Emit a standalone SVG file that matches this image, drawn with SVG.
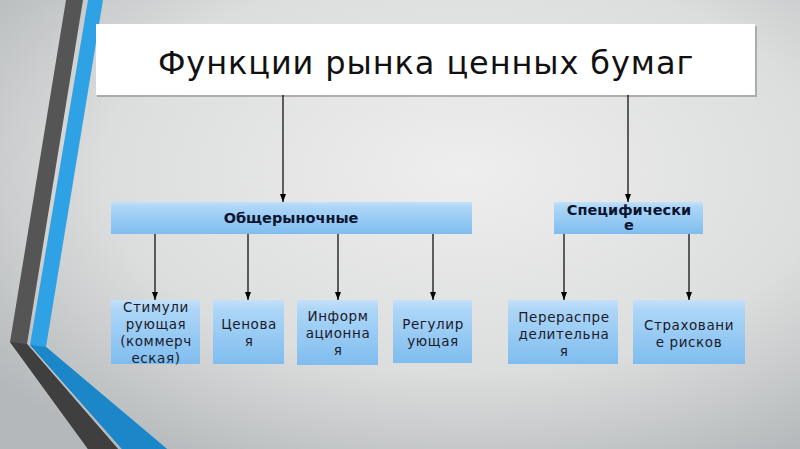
<svg xmlns="http://www.w3.org/2000/svg" width="800" height="449" viewBox="0 0 800 449">
<defs>
<radialGradient id="bg" cx="0.58" cy="0.38" r="0.75">
<stop offset="0" stop-color="#eeeeee"/>
<stop offset="0.6" stop-color="#dcdddd"/>
<stop offset="1" stop-color="#b4b8ba"/>
</radialGradient>
<linearGradient id="box" x1="0" y1="0" x2="0" y2="1">
<stop offset="0" stop-color="#c3e0f9"/>
<stop offset="0.15" stop-color="#add6f7"/>
<stop offset="1" stop-color="#7fbdef"/>
</linearGradient>
<marker id="arr" markerWidth="8" markerHeight="6" refX="8" refY="3" orient="auto" markerUnits="userSpaceOnUse" viewBox="0 0 8 6">
<path d="M0,0 L8,3 L0,6 Z" fill="#000"/>
</marker>
</defs>
<style>
.node rect.b{fill:url(#box);}
.t{font-family:"DejaVu Sans","Liberation Sans",sans-serif;font-size:13.5px;fill:#1a1a2a;text-anchor:middle;letter-spacing:0.6px;}
.h{font-family:"DejaVu Sans","Liberation Sans",sans-serif;font-size:14.5px;font-weight:bold;fill:#0b1530;text-anchor:middle;}
.c line{stroke:#000;stroke-width:1.2;marker-end:url(#arr);}
</style>
<rect width="800" height="449" fill="url(#bg)"/>
<g id="decor">
<polygon points="66,0 83,0 27,344 118,449 88,449 10,342" fill="#555555"/>
<polygon points="10,342 27,344 118,449 88,449" fill="#3f3f3f"/>
<polygon points="88,0 103,0 46,347 167,449 122,449 30,345" fill="#2fa2e6"/>
<polygon points="30,345 46,347 167,449 122,449" fill="#1b86c8"/>
</g>
<g id="title">
<rect x="97" y="26" width="660" height="71" fill="#8a8a8a" opacity="0.6"/>
<rect x="96" y="24" width="659" height="71" fill="#ffffff"/>
<text x="426" y="74" font-family="DejaVu Sans, Liberation Sans, sans-serif" font-size="32" fill="#111" text-anchor="middle" letter-spacing="0.9">Функции рынка ценных бумаг</text>
</g>
<g class="c" id="connectors">
<line x1="283" y1="95" x2="283" y2="202"/>
<line x1="628" y1="95" x2="628" y2="202"/>
<line x1="155" y1="234" x2="155" y2="300"/>
<line x1="248" y1="234" x2="248" y2="300"/>
<line x1="338" y1="234" x2="338" y2="300"/>
<line x1="433" y1="234" x2="433" y2="300"/>
<line x1="564" y1="234" x2="564" y2="300"/>
<line x1="689" y1="234" x2="689" y2="300"/>
</g>
<g class="node" id="general">
<rect class="b" x="111" y="202" width="361" height="32"/>
<text class="h" x="291" y="223">Общерыночные</text>
</g>
<g class="node" id="specific">
<rect class="b" x="554" y="202" width="149" height="32"/>
<text class="h" x="629" y="215">Специфически</text>
<text class="h" x="629" y="230">е</text>
</g>
<g class="node" id="stim">
<rect class="b" x="111" y="300" width="89" height="64"/>
<text class="t" x="156" y="312">Стимули</text>
<text class="t" x="156" y="329">рующая</text>
<text class="t" x="156" y="346">(коммерч</text>
<text class="t" x="156" y="363">еская)</text>
</g>
<g class="node" id="price">
<rect class="b" x="213" y="300" width="71" height="64"/>
<text class="t" x="249" y="329">Ценова</text>
<text class="t" x="249" y="346">я</text>
</g>
<g class="node" id="info">
<rect class="b" x="297" y="300" width="81" height="65"/>
<text class="t" x="338" y="321">Информ</text>
<text class="t" x="338" y="338">ационна</text>
<text class="t" x="338" y="355">я</text>
</g>
<g class="node" id="reg">
<rect class="b" x="393" y="300" width="79" height="63"/>
<text class="t" x="433" y="329">Регулир</text>
<text class="t" x="433" y="346">ующая</text>
</g>
<g class="node" id="redist">
<rect class="b" x="508" y="300" width="110" height="64"/>
<text class="t" x="564" y="322">Перераспре</text>
<text class="t" x="564" y="339">делительна</text>
<text class="t" x="564" y="356">я</text>
</g>
<g class="node" id="insur">
<rect class="b" x="633" y="300" width="112" height="64"/>
<text class="t" x="689" y="330">Страховани</text>
<text class="t" x="689" y="347">е рисков</text>
</g>
</svg>
